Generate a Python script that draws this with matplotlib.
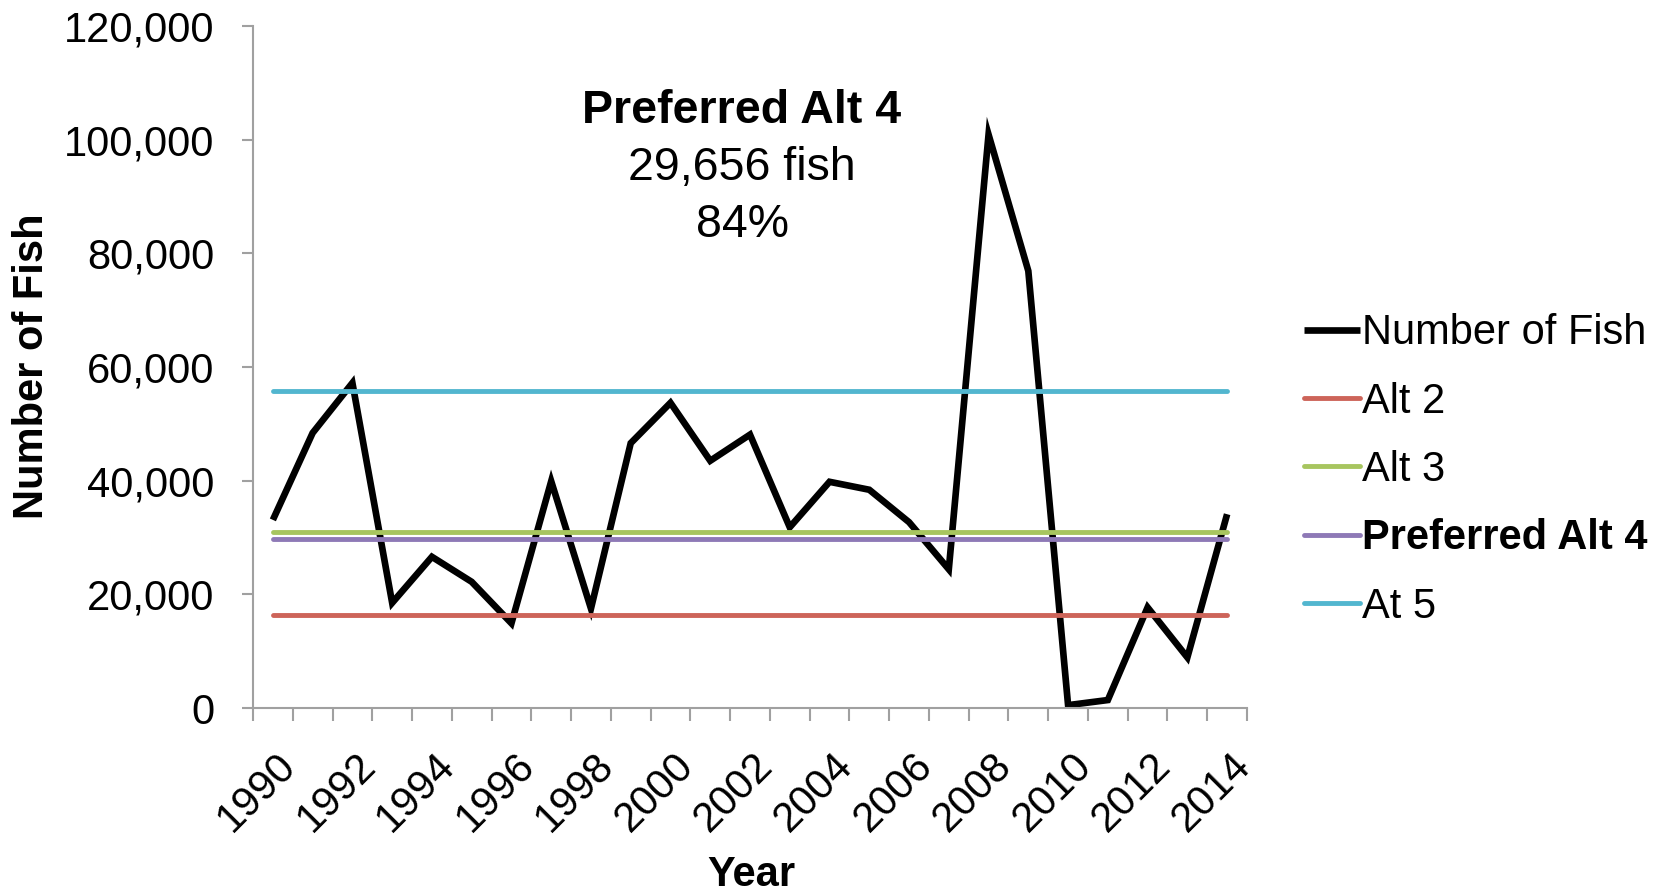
import matplotlib
matplotlib.use("Agg")
import matplotlib.pyplot as plt
import matplotlib.transforms as mtransforms
import numpy as np

years = list(range(1990, 2015))
fish = [33100, 48400, 57200, 18500, 26600, 22200, 14900, 39900, 17500, 46600,
        53700, 43500, 48100, 31800, 39800, 38400, 32700, 24400, 100900, 76900,
        500, 1400, 17700, 8900, 34100]
alt_names = ["Alt 2", "Alt 3", "Preferred Alt 4", "At 5"]
alt_values = [16400, 31000, 29656, 55700]
alt_colors = ["#CD6459", "#A7C55F", "#8E79B6", "#52B6CF"]
y_ticks = [0, 20000, 40000, 60000, 80000, 100000, 120000]
annotation_lines = ["Preferred Alt 4", "29,656 fish", "84%"]

plt.rcParams['font.family'] = ['Liberation Sans', 'DejaVu Sans']

fig = plt.figure(figsize=(16.59, 8.92), dpi=100)
ax = fig.add_axes([253/1659, 1-708/892, (1247-253)/1659, (708-26)/892])

x = np.arange(len(years))
ax.plot(x, fish, color="black", lw=4.8, solid_joinstyle="miter",
        solid_capstyle="butt", label="Number of Fish")
for name, val, col in zip(alt_names, alt_values, alt_colors):
    ax.plot(x, np.full(len(years), val), color=col, lw=3.5,
            solid_capstyle="round", label=name)

ax.set_xlim(-0.5, len(years) - 0.5)
ax.set_ylim(0, 120000)

gray = "#A0A0A0"
for s in ["top", "right"]:
    ax.spines[s].set_visible(False)
for s in ["left", "bottom"]:
    ax.spines[s].set_color(gray)
    ax.spines[s].set_linewidth(1.5)

ax.set_yticks(y_ticks)
ax.set_yticklabels([f"{v:,}" for v in y_ticks], fontsize=30)
ax.tick_params(axis="y", length=8, width=1.5, color=gray, pad=20)

# category boundaries as major ticks, labels at every other center
ax.set_xticks(np.arange(len(years) + 1) - 0.5)
ax.set_xticklabels([])
ax.tick_params(axis="x", which="major", length=9, width=1.5, color=gray)
lab_pos = [i for i, y in enumerate(years) if y % 2 == 0]
ax.set_xticks(lab_pos, minor=True)
ax.set_xticklabels([str(years[i]) for i in lab_pos], minor=True, fontsize=30,
                   rotation=45, ha="right", va="top", rotation_mode="anchor")
ax.tick_params(axis="x", which="minor", length=0, pad=27)
off = mtransforms.ScaledTranslation(3/100, 0, fig.dpi_scale_trans)
for lab in ax.get_xticklabels(minor=True):
    lab.set_transform(lab.get_transform() + off)

fig.text(32/1659, 1-366/892, "Number of Fish", rotation=90, fontsize=30,
         fontweight="bold", ha="center", va="center")
fig.text(751/1659, 1-886/892, "Year", fontsize=30, fontweight="bold",
         ha="center", va="baseline")

ann_y = [111, 168, 225]
for i, (t, yy) in enumerate(zip(annotation_lines, ann_y)):
    fig.text(742/1659, 1-yy/892, t, fontsize=33.5,
             fontweight="bold" if i == 0 else "normal", ha="center", va="center")

leg = fig.legend(loc="center left", bbox_to_anchor=(1304/1659, 1-470/892),
                 frameon=False, fontsize=30, handlelength=1.35,
                 handletextpad=0.05, labelspacing=0.68, borderpad=0,
                 borderaxespad=0)
for t in leg.get_texts():
    if t.get_text() == "Preferred Alt 4":
        t.set_fontweight("bold")

fig.savefig("out.png", dpi=100)
